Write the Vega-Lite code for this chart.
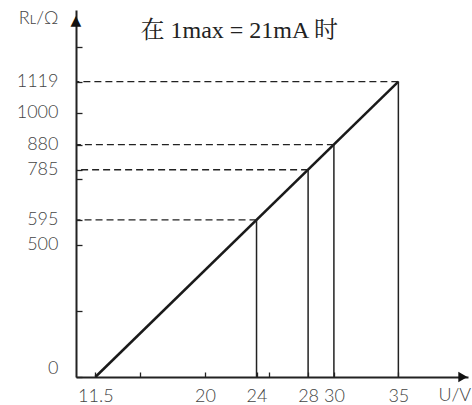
{
  "$schema": "https://vega.github.io/schema/vega-lite/v6.json",
  "width": 392,
  "height": 367,
  "autosize": "none",
  "padding": {"left": 76, "top": 10, "right": 4, "bottom": 28},
  "config": {
    "view": {"stroke": null},
    "axis": {
      "grid": false,
      "labelFont": "Lato",
      "labelFontWeight": 300,
      "labelFontSize": 18,
      "labelColor": "#444",
      "titleFont": "Lato",
      "titleFontWeight": 300,
      "titleFontSize": 18,
      "titleColor": "#444",
      "domainColor": "#222",
      "domainWidth": 2,
      "tickColor": "#222",
      "tickWidth": 1.3,
      "labelOverlap": false,
      "labelFlush": false
    }
  },
  "datasets": {
    "line": [{"U": 11.5, "R": 0}, {"U": 35, "R": 1119}],
    "points": [
      {"U": 24, "R": 595},
      {"U": 28, "R": 785},
      {"U": 30, "R": 880},
      {"U": 35, "R": 1119}
    ],
    "one": [{"k": 1}]
  },
  "layer": [
    {
      "data": {"name": "line"},
      "mark": {"type": "line", "strokeWidth": 2.5, "color": "#1a1a1a"},
      "encoding": {
        "x": {
          "field": "U", "type": "quantitative",
          "scale": {"domain": [10, 40.4], "nice": false, "zero": false},
          "axis": {
            "values": [11.5, 15, 20, 24, 25, 28, 30, 35],
            "labelExpr": "datum.value == 15 || datum.value == 25 ? '' : toString(datum.value)",
            "tickSize": -5,
            "labelPadding": 15,
            "title": "U/V",
            "titleX": 362,
            "titleY": 18,
            "titleAlign": "left",
            "titleBaseline": "middle",
            "titleAnchor": "start"
          }
        },
        "y": {
          "field": "R", "type": "quantitative",
          "scale": {"domain": [0, 1390], "nice": false, "zero": false},
          "axis": {
            "values": [0, 250, 500, 595, 750, 785, 880, 1000, 1119, 1250],
            "labelExpr": "datum.value == 250 || datum.value == 750 || datum.value == 1250 ? '' : toString(datum.value)",
            "labelBaseline": {"condition": {"test": "datum.value == 0", "value": "bottom"}, "value": "middle"},
            "tickSize": -6,
            "labelPadding": 24,
            "title": "Rʟ/Ω",
            "titleAngle": 0,
            "titleAlign": "right",
            "titleBaseline": "middle",
            "titleX": -18,
            "titleY": 8
          }
        }
      }
    },
    {
      "data": {"name": "points"},
      "mark": {"type": "rule", "strokeDash": [7, 4], "strokeWidth": 1.3, "color": "#222"},
      "encoding": {
        "x": {"field": "U", "type": "quantitative"},
        "x2": {"datum": 10},
        "y": {"field": "R", "type": "quantitative"}
      }
    },
    {
      "data": {"name": "points"},
      "mark": {"type": "rule", "strokeWidth": 1.5, "color": "#222"},
      "encoding": {
        "x": {"field": "U", "type": "quantitative"},
        "y": {"field": "R", "type": "quantitative"},
        "y2": {"datum": 0}
      }
    },
    {
      "data": {"name": "one"},
      "mark": {"type": "text", "font": "DejaVu Sans", "fontSize": 14, "align": "center", "baseline": "alphabetic", "color": "#111"},
      "encoding": {
        "x": {"datum": 10, "type": "quantitative"},
        "y": {"datum": 1333, "type": "quantitative"},
        "text": {"value": "▲"}
      }
    },
    {
      "data": {"name": "one"},
      "mark": {"type": "point", "shape": "triangle-right", "size": 110, "filled": true, "fill": "#111", "opacity": 1},
      "encoding": {
        "x": {"datum": 40.0, "type": "quantitative"},
        "y": {"datum": 0, "type": "quantitative"}
      }
    },
    {
      "data": {"name": "one"},
      "mark": {"type": "text", "font": "Liberation Serif, Noto Serif CJK SC, Noto Sans CJK SC", "fontSize": 24, "align": "left", "baseline": "alphabetic", "color": "#222"},
      "encoding": {
        "x": {"datum": 15, "type": "quantitative"},
        "y": {"datum": 1284, "type": "quantitative"},
        "text": {"value": "在 1max = 21mA 时"}
      }
    }
  ]
}
